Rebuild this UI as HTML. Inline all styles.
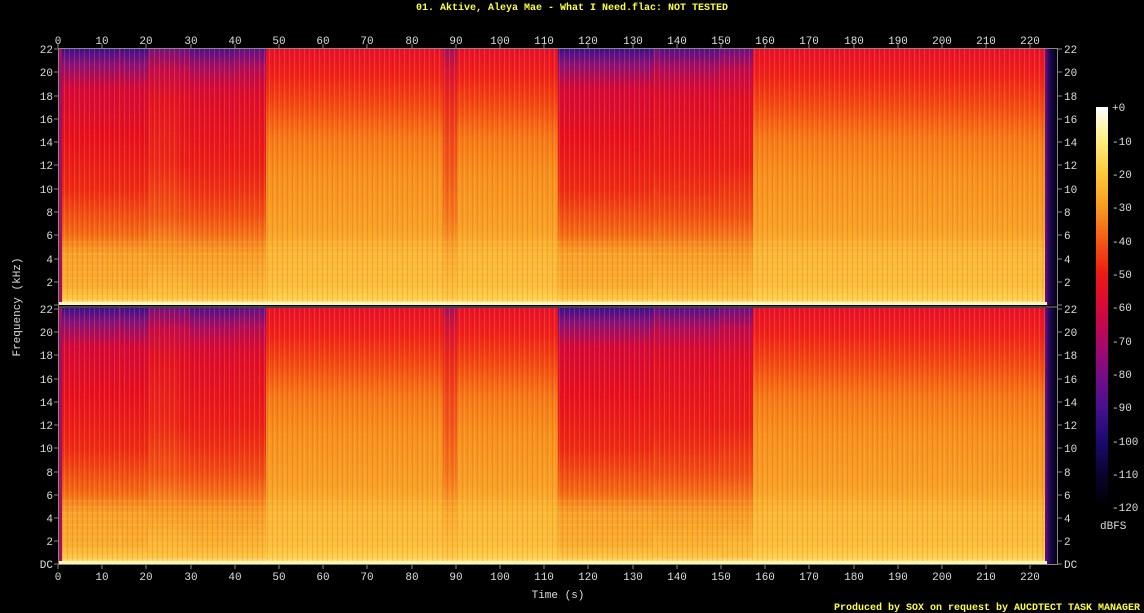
<!DOCTYPE html>
<html><head><meta charset="utf-8"><style>
html,body{margin:0;padding:0;background:#000;}
svg{display:block;}
text{font-family:"Liberation Mono","DejaVu Sans Mono",monospace;font-size:11px;fill:#ddd;}
</style></head><body>
<svg width="1144" height="613" viewBox="0 0 1144 613" xmlns="http://www.w3.org/2000/svg">
<defs>
<linearGradient id="loud" x1="0" y1="0" x2="0" y2="1">
<stop offset="0" stop-color="#e8102c"/>
<stop offset="0.1" stop-color="#f0201a"/>
<stop offset="0.22" stop-color="#f44a12"/>
<stop offset="0.35" stop-color="#f77a18"/>
<stop offset="0.5" stop-color="#f8921e"/>
<stop offset="0.7" stop-color="#f9a226"/>
<stop offset="0.8" stop-color="#fbb834"/>
<stop offset="0.92" stop-color="#fcbe38"/>
<stop offset="0.975" stop-color="#fed04a"/>
<stop offset="1" stop-color="#fff6c0"/>
</linearGradient>
<linearGradient id="quiet" x1="0" y1="0" x2="0" y2="1">
<stop offset="0" stop-color="#3a1090"/>
<stop offset="0.06" stop-color="#8a107a"/>
<stop offset="0.15" stop-color="#d4083a"/>
<stop offset="0.35" stop-color="#e8101e"/>
<stop offset="0.55" stop-color="#ee2a14"/>
<stop offset="0.72" stop-color="#f46a14"/>
<stop offset="0.8" stop-color="#f9a028"/>
<stop offset="0.92" stop-color="#faaa2c"/>
<stop offset="0.975" stop-color="#fdc840"/>
<stop offset="1" stop-color="#fff6c0"/>
</linearGradient>
<linearGradient id="mid" x1="0" y1="0" x2="0" y2="1">
<stop offset="0" stop-color="#6a1088"/>
<stop offset="0.08" stop-color="#c00a50"/>
<stop offset="0.2" stop-color="#e20e26"/>
<stop offset="0.45" stop-color="#ec1e18"/>
<stop offset="0.65" stop-color="#f25014"/>
<stop offset="0.8" stop-color="#f89a24"/>
<stop offset="0.97" stop-color="#fcc038"/>
<stop offset="1" stop-color="#fff6c0"/>
</linearGradient>
<linearGradient id="endg" x1="0" y1="0" x2="1" y2="0">
<stop offset="0" stop-color="#6a1088"/>
<stop offset="0.4" stop-color="#1a0850"/>
<stop offset="1" stop-color="#000"/>
</linearGradient>
<linearGradient id="cbar" x1="0" y1="0" x2="0" y2="1">
<stop offset="0" stop-color="#ffffff"/>
<stop offset="0.083" stop-color="#fff080"/>
<stop offset="0.167" stop-color="#fdc838"/>
<stop offset="0.25" stop-color="#f99a20"/>
<stop offset="0.333" stop-color="#f55a14"/>
<stop offset="0.417" stop-color="#ee1a14"/>
<stop offset="0.5" stop-color="#d80838"/>
<stop offset="0.583" stop-color="#b00866"/>
<stop offset="0.667" stop-color="#7a0c86"/>
<stop offset="0.75" stop-color="#481090"/>
<stop offset="0.833" stop-color="#1c0a70"/>
<stop offset="0.917" stop-color="#080430"/>
<stop offset="1" stop-color="#000"/>
</linearGradient>
<pattern id="str" width="5" height="10" patternUnits="userSpaceOnUse">
<rect x="0" y="0" width="1" height="10" fill="#ffd060" opacity="0.18"/>
<rect x="3" y="0" width="1" height="10" fill="#a00020" opacity="0.12"/>
</pattern>
<pattern id="hz" width="10" height="6" patternUnits="userSpaceOnUse">
<rect x="0" y="0" width="10" height="2" fill="#ffe070" opacity="0.12"/>
</pattern>
<g id="chan">
<rect x="0" y="0" width="988" height="256" fill="url(#loud)"/>
<rect x="0" y="0" width="60" height="256" fill="url(#quiet)"/>
<rect x="62" y="0" width="27" height="256" fill="url(#quiet)"/>
<rect x="89" y="0" width="30" height="256" fill="url(#mid)" opacity="0.9"/>
<rect x="119" y="0" width="88" height="256" fill="url(#mid)"/>
<rect x="60" y="0" width="2" height="256" fill="url(#mid)"/>
<rect x="131" y="0" width="76" height="256" fill="url(#quiet)" opacity="0.55"/>
<rect x="177" y="0" width="30" height="256" fill="url(#mid)" opacity="0.5"/>
<rect x="384" y="0" width="14" height="256" fill="url(#mid)" opacity="0.5"/>
<rect x="499" y="0" width="95" height="256" fill="url(#quiet)"/>
<rect x="594" y="0" width="100" height="256" fill="url(#mid)"/>
<rect x="600" y="0" width="60" height="256" fill="url(#quiet)" opacity="0.5"/>
<rect x="0" y="0" width="988" height="256" fill="url(#str)"/>
<rect x="0" y="190" width="988" height="60" fill="url(#hz)"/>
<rect x="0" y="0" width="3" height="256" fill="#a01060"/>
<rect x="986" y="0" width="13" height="256" fill="url(#endg)"/>
<rect x="0" y="253" width="988" height="3" fill="#fff4b0"/>
</g>
</defs>

<text x="572" y="10" text-anchor="middle" style="fill:#ffff40;font-weight:bold;font-size:10px">01. Aktive, Aleya Mae - What I Need.flac: NOT TESTED</text>

<use href="#chan" x="59" y="49"/>
<use href="#chan" x="59" y="308"/>

<rect x="58.5" y="48.5" width="999" height="516" fill="none" stroke="#888" stroke-width="1"/>
<line x1="58" y1="307" x2="1058" y2="307" stroke="#888"/>

<rect x="1096" y="107" width="12" height="400" fill="url(#cbar)"/>
<g text-anchor="start">
<text x="1112" y="111">+0</text><text x="1112" y="145">-10</text><text x="1112" y="178">-20</text><text x="1112" y="211">-30</text><text x="1112" y="245">-40</text><text x="1112" y="278">-50</text><text x="1112" y="311">-60</text><text x="1112" y="345">-70</text><text x="1112" y="378">-80</text><text x="1112" y="411">-90</text><text x="1112" y="445">-100</text><text x="1112" y="478">-110</text><text x="1112" y="511">-120</text>
</g>
<text x="1100" y="529">dBFS</text>

<g stroke="#888">
<path d="M58,44v4M102,44v4M146,44v4M191,44v4M235,44v4M279,44v4M323,44v4M367,44v4M412,44v4M456,44v4M500,44v4M544,44v4M588,44v4M633,44v4M677,44v4M721,44v4M765,44v4M809,44v4M854,44v4M898,44v4M942,44v4M986,44v4M1030,44v4"/>
<path d="M58,565v4M102,565v4M146,565v4M191,565v4M235,565v4M279,565v4M323,565v4M367,565v4M412,565v4M456,565v4M500,565v4M544,565v4M588,565v4M633,565v4M677,565v4M721,565v4M765,565v4M809,565v4M854,565v4M898,565v4M942,565v4M986,565v4M1030,565v4"/>
</g>
<g text-anchor="middle">
<text x="58" y="44">0</text><text x="102" y="44">10</text><text x="146" y="44">20</text><text x="191" y="44">30</text><text x="235" y="44">40</text><text x="279" y="44">50</text><text x="323" y="44">60</text><text x="367" y="44">70</text><text x="412" y="44">80</text><text x="456" y="44">90</text><text x="500" y="44">100</text><text x="544" y="44">110</text><text x="588" y="44">120</text><text x="633" y="44">130</text><text x="677" y="44">140</text><text x="721" y="44">150</text><text x="765" y="44">160</text><text x="809" y="44">170</text><text x="854" y="44">180</text><text x="898" y="44">190</text><text x="942" y="44">200</text><text x="986" y="44">210</text><text x="1030" y="44">220</text>
<text x="58" y="580">0</text><text x="102" y="580">10</text><text x="146" y="580">20</text><text x="191" y="580">30</text><text x="235" y="580">40</text><text x="279" y="580">50</text><text x="323" y="580">60</text><text x="367" y="580">70</text><text x="412" y="580">80</text><text x="456" y="580">90</text><text x="500" y="580">100</text><text x="544" y="580">110</text><text x="588" y="580">120</text><text x="633" y="580">130</text><text x="677" y="580">140</text><text x="721" y="580">150</text><text x="765" y="580">160</text><text x="809" y="580">170</text><text x="854" y="580">180</text><text x="898" y="580">190</text><text x="942" y="580">200</text><text x="986" y="580">210</text><text x="1030" y="580">220</text>
</g>
<text x="558" y="598" text-anchor="middle">Time (s)</text>

<g stroke="#888">
<path d="M54,49h4M54,72h4M54,96h4M54,119h4M54,142h4M54,165h4M54,189h4M54,212h4M54,235h4M54,259h4M54,282h4M54,305h4"/>
<path d="M54,309h4M54,332h4M54,355h4M54,379h4M54,402h4M54,425h4M54,448h4M54,472h4M54,495h4M54,518h4M54,541h4M54,564h4"/>
<path d="M1058,49h4M1058,72h4M1058,96h4M1058,119h4M1058,142h4M1058,165h4M1058,189h4M1058,212h4M1058,235h4M1058,259h4M1058,282h4M1058,305h4"/>
<path d="M1058,309h4M1058,332h4M1058,355h4M1058,379h4M1058,402h4M1058,425h4M1058,448h4M1058,472h4M1058,495h4M1058,518h4M1058,541h4M1058,564h4"/>
</g>
<g text-anchor="end">
<text x="53" y="53">22</text><text x="53" y="76">20</text><text x="53" y="100">18</text><text x="53" y="123">16</text><text x="53" y="146">14</text><text x="53" y="169">12</text><text x="53" y="193">10</text><text x="53" y="216">8</text><text x="53" y="239">6</text><text x="53" y="263">4</text><text x="53" y="286">2</text>
<text x="53" y="313">22</text><text x="53" y="336">20</text><text x="53" y="359">18</text><text x="53" y="383">16</text><text x="53" y="406">14</text><text x="53" y="429">12</text><text x="53" y="452">10</text><text x="53" y="476">8</text><text x="53" y="499">6</text><text x="53" y="522">4</text><text x="53" y="545">2</text><text x="53" y="568">DC</text>
</g>
<g text-anchor="start">
<text x="1064" y="53">22</text><text x="1064" y="76">20</text><text x="1064" y="100">18</text><text x="1064" y="123">16</text><text x="1064" y="146">14</text><text x="1064" y="169">12</text><text x="1064" y="193">10</text><text x="1064" y="216">8</text><text x="1064" y="239">6</text><text x="1064" y="263">4</text><text x="1064" y="286">2</text>
<text x="1064" y="313">22</text><text x="1064" y="336">20</text><text x="1064" y="359">18</text><text x="1064" y="383">16</text><text x="1064" y="406">14</text><text x="1064" y="429">12</text><text x="1064" y="452">10</text><text x="1064" y="476">8</text><text x="1064" y="499">6</text><text x="1064" y="522">4</text><text x="1064" y="545">2</text><text x="1064" y="568">DC</text>
</g>
<text x="0" y="0" transform="translate(20,307) rotate(-90)" text-anchor="middle">Frequency (kHz)</text>

<text x="1140" y="610" text-anchor="end" style="fill:#ffff40;font-weight:bold;font-size:10px">Produced by SOX on request by AUCDTECT TASK MANAGER</text>
</svg>
</body></html>
